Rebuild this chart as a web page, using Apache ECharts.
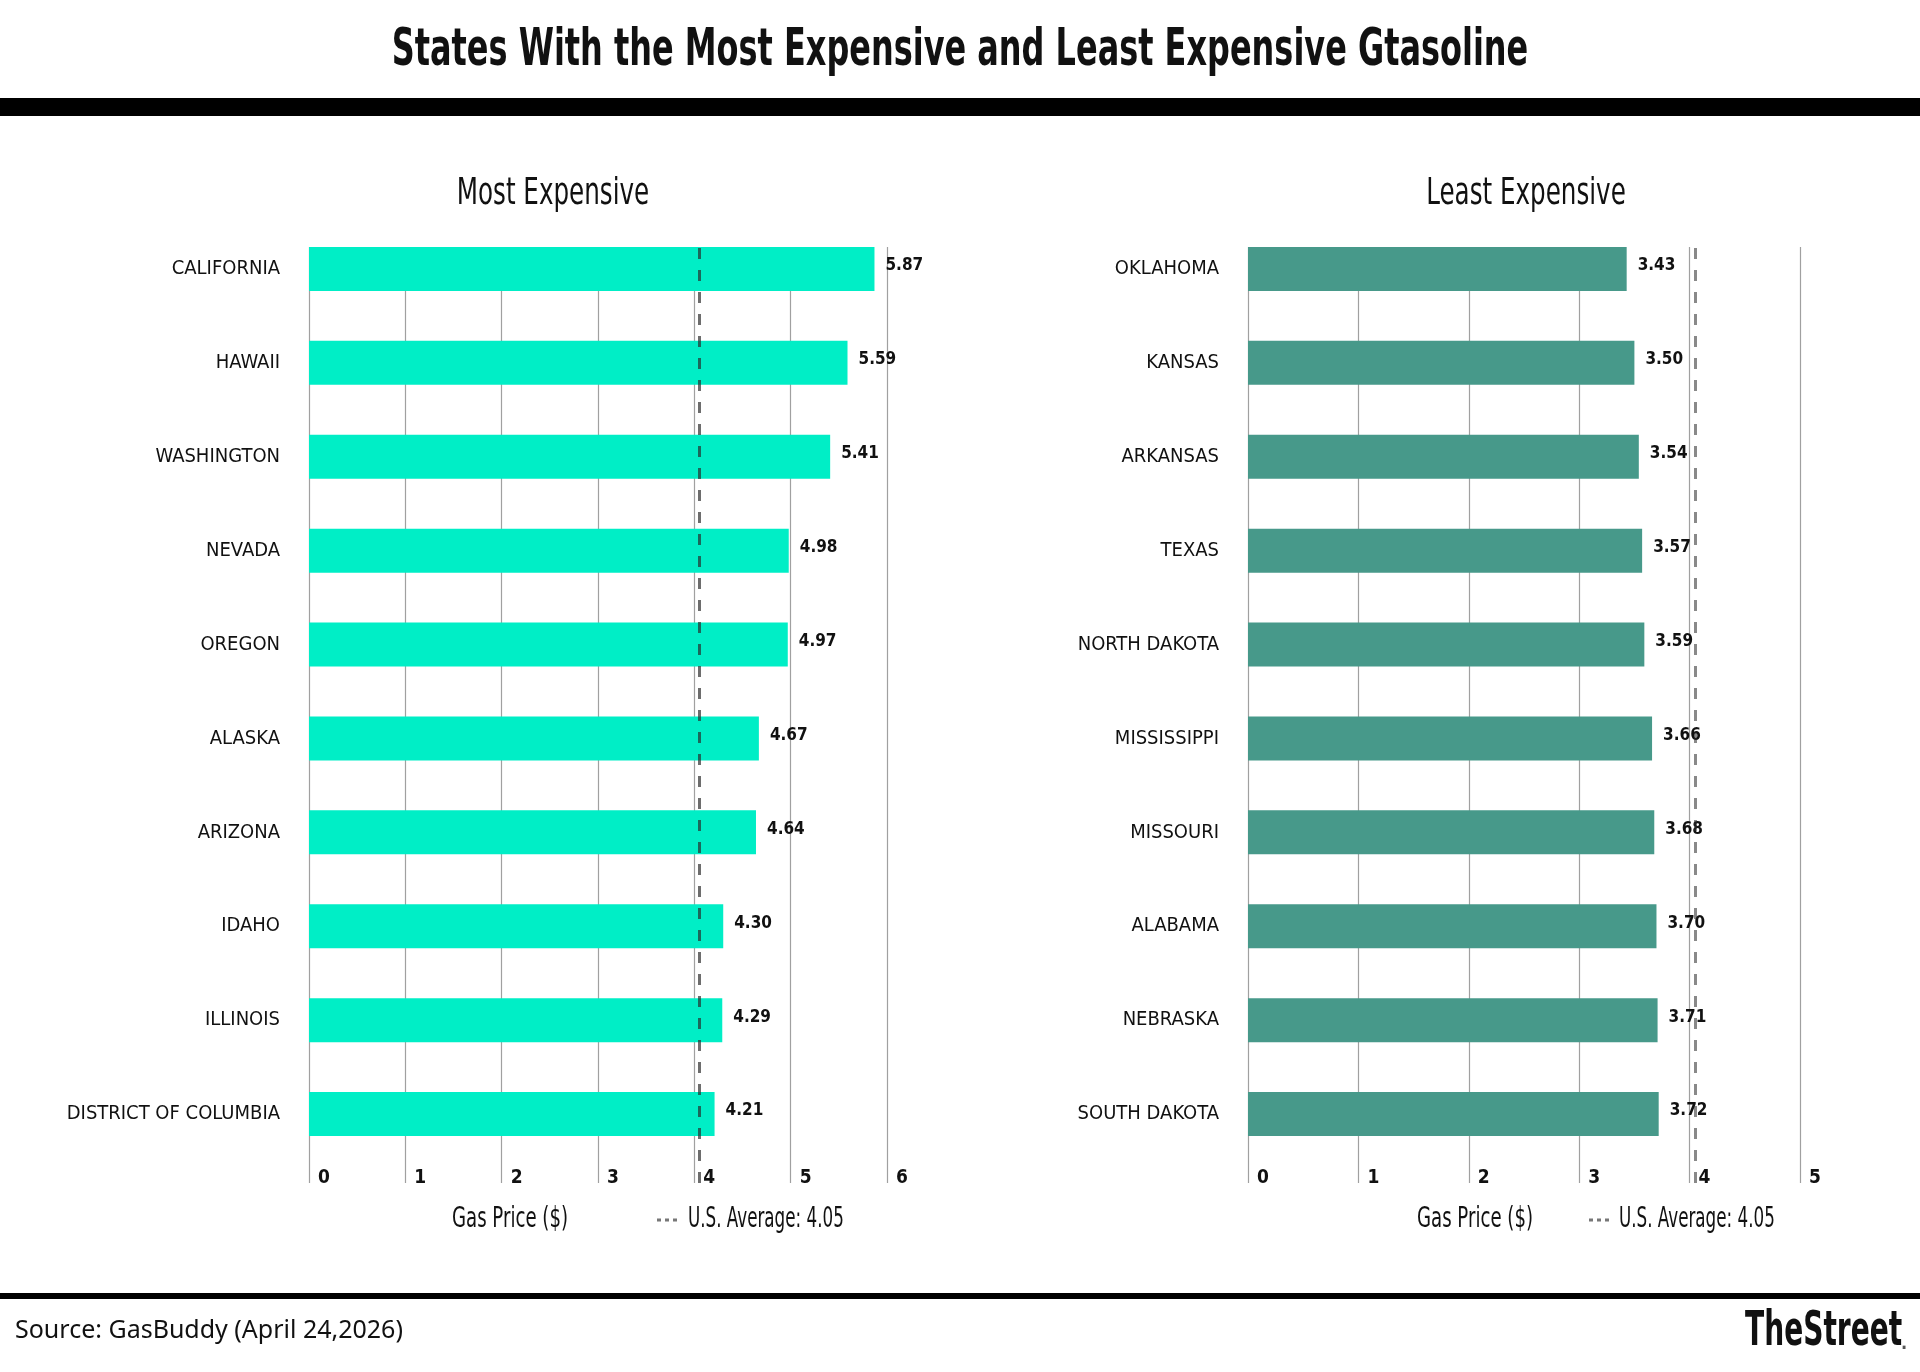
<!DOCTYPE html>
<html>
<head>
<meta charset="utf-8">
<script src="https://cdn.jsdelivr.net/npm/echarts@6/dist/echarts.min.js"></script>
<style>
html,body{margin:0;padding:0;background:#fff;}
#chart{width:1920px;height:1372px;}
</style>
</head>
<body>
<div id="chart"></div>
<script>
// ---- data ----
const mostStates = ['CALIFORNIA','HAWAII','WASHINGTON','NEVADA','OREGON','ALASKA','ARIZONA','IDAHO','ILLINOIS','DISTRICT OF COLUMBIA'];
const mostPrices = [5.87, 5.59, 5.41, 4.98, 4.97, 4.67, 4.64, 4.30, 4.29, 4.21];
const leastStates = ['OKLAHOMA','KANSAS','ARKANSAS','TEXAS','NORTH DAKOTA','MISSISSIPPI','MISSOURI','ALABAMA','NEBRASKA','SOUTH DAKOTA'];
const leastPrices = [3.43, 3.50, 3.54, 3.57, 3.59, 3.66, 3.68, 3.70, 3.71, 3.72];
const usAverage = 4.05;
const mostAxisMax = 6;
const leastAxisMax = 5;
const titleText = 'States With the Most Expensive and Least Expensive Gtasoline';
const leftTitle = 'Most Expensive';
const rightTitle = 'Least Expensive';
const axisTitle = 'Gas Price ($)';
const avgLegend = 'U.S. Average: 4.05';
const sourceText = 'Source: GasBuddy (April 24,2026)';
const logoText = 'TheStreet';

const NARROW = "'DejaVu Sans Condensed','Liberation Sans Narrow',sans-serif";
const chart = echarts.init(document.getElementById('chart'));

const L = {left: 309, width: 578};
const R = {left: 1248, width: 552};
const linesTop = 247, linesBottom = 1372 - 1183;
const barsTop = 222, barsBottom = 1372 - 1161;

function linesX(gi, max) {
  return {
    type: 'value', gridIndex: gi, min: 0, max: max, interval: 1,
    axisLine: {show: false}, axisTick: {show: false},
    splitLine: {show: true, lineStyle: {color: '#a0a0a0', width: 1.2}},
    axisLabel: {
      show: true, align: 'left', verticalAlign: 'top', margin: -14,
      padding: [0, 0, 0, 9],
      fontFamily: NARROW, fontWeight: 'bold', fontSize: 19, color: '#111'
    }
  };
}
function barsX(gi, max) {
  return {type: 'value', gridIndex: gi, min: 0, max: max, show: false};
}
function barsY(gi, cats) {
  return {
    type: 'category', gridIndex: gi, data: cats, inverse: true,
    axisLine: {show: false}, axisTick: {show: false}, splitLine: {show: false},
    axisLabel: {margin: 29, fontFamily: NARROW, fontSize: 20, color: '#111'}
  };
}
function linesY(gi) {
  return {type: 'value', gridIndex: gi, min: 0, max: 1, show: false};
}
function avgSeries(xi, yi, color) {
  return {
    type: 'line', xAxisIndex: xi, yAxisIndex: yi, data: [], z: 6, silent: true,
    markLine: {
      silent: true, symbol: 'none', animation: false,
      label: {show: false},
      lineStyle: {type: [11, 11], width: 3, color: color},
      data: [{xAxis: usAverage}]
    }
  };
}
function barSeries(xi, yi, values, color) {
  return {
    type: 'bar', xAxisIndex: xi, yAxisIndex: yi, data: values, barWidth: 44, z: 3,
    itemStyle: {color: color},
    label: {
      show: true, position: 'right', distance: 11, offset: [0, -3],
      formatter: p => p.value.toFixed(2),
      fontFamily: NARROW, fontWeight: 'bold', fontSize: 17, color: '#111'
    }
  };
}

function gtext(x, y, text, font, scaleX, align, fill) {
  return {
    type: 'text', x: x, y: y, scaleX: scaleX, silent: true,
    style: {text: text, font: font, fill: fill || '#111', textAlign: align || 'center', textVerticalAlign: 'middle'}
  };
}

const option = {
  animation: false,
  backgroundColor: '#fff',
  grid: [
    {left: L.left, width: L.width, top: linesTop, bottom: linesBottom},
    {left: L.left, width: L.width, top: barsTop, bottom: barsBottom},
    {left: R.left, width: R.width, top: linesTop, bottom: linesBottom},
    {left: R.left, width: R.width, top: barsTop, bottom: barsBottom}
  ],
  xAxis: [linesX(0, mostAxisMax), barsX(1, mostAxisMax), linesX(2, leastAxisMax), barsX(3, leastAxisMax)],
  yAxis: [linesY(0), barsY(1, mostStates), linesY(2), barsY(3, leastStates)],
  series: [
    barSeries(1, 1, mostPrices, '#00EEC6'),
    avgSeries(0, 0, 'rgba(40,40,40,0.68)'),
    barSeries(3, 3, leastPrices, '#47998A'),
    avgSeries(2, 2, 'rgba(40,40,40,0.55)')
  ],
  graphic: [
    gtext(960, 51, titleText, "bold 52px " + NARROW, 0.683),
    {type: 'rect', silent: true, shape: {x: 0, y: 98, width: 1920, height: 18}, style: {fill: '#000'}},
    gtext(553, 194, leftTitle, "38px " + NARROW, 0.72),
    gtext(1526, 194, rightTitle, "38px " + NARROW, 0.72),
    gtext(510, 1220, axisTitle, "28px " + NARROW, 0.72),
    {type: 'line', silent: true, shape: {x1: 657, y1: 1220, x2: 678, y2: 1220}, style: {stroke: '#777', lineWidth: 3, lineDash: [4, 4]}},
    gtext(688, 1220, avgLegend, "28px " + NARROW, 0.665, 'left'),
    gtext(1475, 1220, axisTitle, "28px " + NARROW, 0.72),
    {type: 'line', silent: true, shape: {x1: 1589, y1: 1220, x2: 1610, y2: 1220}, style: {stroke: '#777', lineWidth: 3, lineDash: [4, 4]}},
    gtext(1619, 1220, avgLegend, "28px " + NARROW, 0.665, 'left'),
    {type: 'rect', silent: true, shape: {x: 0, y: 1293, width: 1920, height: 6}, style: {fill: '#000'}},
    gtext(15, 1331, sourceText, "25px 'Noto Sans',sans-serif", 1, 'left'),
    gtext(1745, 1333, logoText, "bold 48px " + NARROW, 0.65, 'left'),
    {type: 'text', silent: true, x: 1901, y: 1344, style: {text: '.', font: "bold 18px " + NARROW, fill: '#555', textAlign: 'left', textVerticalAlign: 'middle'}}
  ]
};
chart.setOption(option);
</script>
</body>
</html>
